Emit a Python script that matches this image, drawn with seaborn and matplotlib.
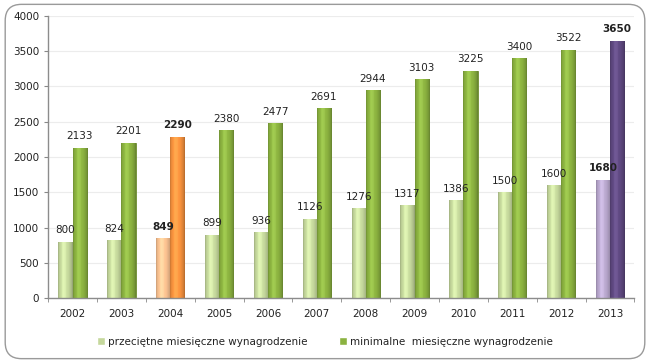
import matplotlib
matplotlib.use("Agg")
import matplotlib.pyplot as plt
import seaborn as sns
import pandas as pd
import numpy as np
from matplotlib.patches import FancyBboxPatch

years = ["2002", "2003", "2004", "2005", "2006", "2007", "2008", "2009", "2010", "2011", "2012", "2013"]
przecietne = [800, 824, 849, 899, 936, 1126, 1276, 1317, 1386, 1500, 1600, 1680]
minimalne = [2133, 2201, 2290, 2380, 2477, 2691, 2944, 3103, 3225, 3400, 3522, 3650]
series_names = ["przeciętne miesięczne wynagrodzenie", "minimalne  miesięczne wynagrodzenie"]
highlight = {"2004": ("#f9c190", "#f7923e"), "2013": ("#b7a6cc", "#5e4880")}

df = pd.DataFrame({
    "rok": years * 2,
    "wartosc": przecietne + minimalne,
    "seria": [series_names[0]] * len(years) + [series_names[1]] * len(years),
})

sns.set_style("white")
plt.rcParams["font.family"] = ["DejaVu Sans"]

fig = plt.figure(figsize=(6.5, 3.63), dpi=100)
ax = fig.add_axes([0.074, 0.179, 0.902, 0.777])

light_c, dark_c = "#c5d89c", "#8bb240"
sns.barplot(data=df, x="rok", y="wartosc", hue="seria", palette=[light_c, dark_c],
            width=0.58, gap=0, ax=ax, legend=True, saturation=1)

n = len(years)
bars = ax.patches[:2 * n]
xs = np.linspace(0, 1, 64)
shade = np.interp(xs, [0, 0.08, 0.35, 0.7, 0.92, 1.0], [0.80, 0.95, 1.10, 1.0, 0.85, 0.72])
for i, p in enumerate(bars):
    s, k = divmod(i, n)
    yr = years[k]
    if yr in highlight:
        p.set_facecolor(highlight[yr][s])
    fc = np.array(matplotlib.colors.to_rgb(p.get_facecolor()))
    p.set_edgecolor(tuple(fc * 0.78))
    p.set_linewidth(0.6)
    grad = np.clip(fc[None, :] * shade[:, None], 0, 1)
    grad = np.clip(grad + (shade[:, None] > 1.05) * 0.04, 0, 1)
    x0, w, h = p.get_x(), p.get_width(), p.get_height()
    im = ax.imshow(grad[None, :, :], extent=(x0, x0 + w, 0, h), aspect="auto",
                   interpolation="bilinear", zorder=p.get_zorder() + 0.1)
    im.set_clip_path(p)

for ci, cont in enumerate(ax.containers):
    for k, (bar, v) in enumerate(zip(cont, cont.datavalues)):
        bold = years[k] in highlight
        ax.text(bar.get_x() + bar.get_width() / 2, v + 90, f"{int(v)}",
                ha="center", va="bottom", fontsize=7.5,
                fontweight="bold" if bold else "normal", color="#222222")

ax.set_ylim(0, 4000)
ax.set_xlim(-0.5, n - 0.5)
ax.set_yticks(range(0, 4001, 500))
ax.tick_params(axis="y", labelsize=7.5, length=3, color="#888888", colors="#222222", direction="out", left=True)
ax.tick_params(axis="x", which="major", labelsize=7.5, length=0, pad=8, colors="#222222")
ax.set_xticks(np.arange(-0.5, n, 1), minor=True)
ax.tick_params(axis="x", which="minor", length=3, color="#888888", direction="out", bottom=True)
ax.set_xlabel("")
ax.set_ylabel("")
ax.grid(axis="y", color="#ececec", linewidth=0.8)
ax.set_axisbelow(True)
for side in ["top", "right"]:
    ax.spines[side].set_visible(False)
for side in ["left", "bottom"]:
    ax.spines[side].set_color("#8c8c8c")
    ax.spines[side].set_linewidth(1.0)

handles, labels = ax.get_legend_handles_labels()
ax.get_legend().remove()
fig.legend(handles, labels, loc="center", bbox_to_anchor=(0.5, 0.058), ncol=2, frameon=False,
           fontsize=7.5, handlelength=0.8, handleheight=0.8, handletextpad=0.3, columnspacing=3.0,
           labelcolor="#222222")

border = FancyBboxPatch((0.008, 0.012), 0.984, 0.976, boxstyle="round,pad=0,rounding_size=0.025",
                        transform=fig.transFigure, facecolor="none", edgecolor="#9a9a9a",
                        linewidth=1.0, mutation_aspect=650 / 363)
fig.patches.append(border)

fig.savefig("out.png", dpi=100, facecolor="white")
